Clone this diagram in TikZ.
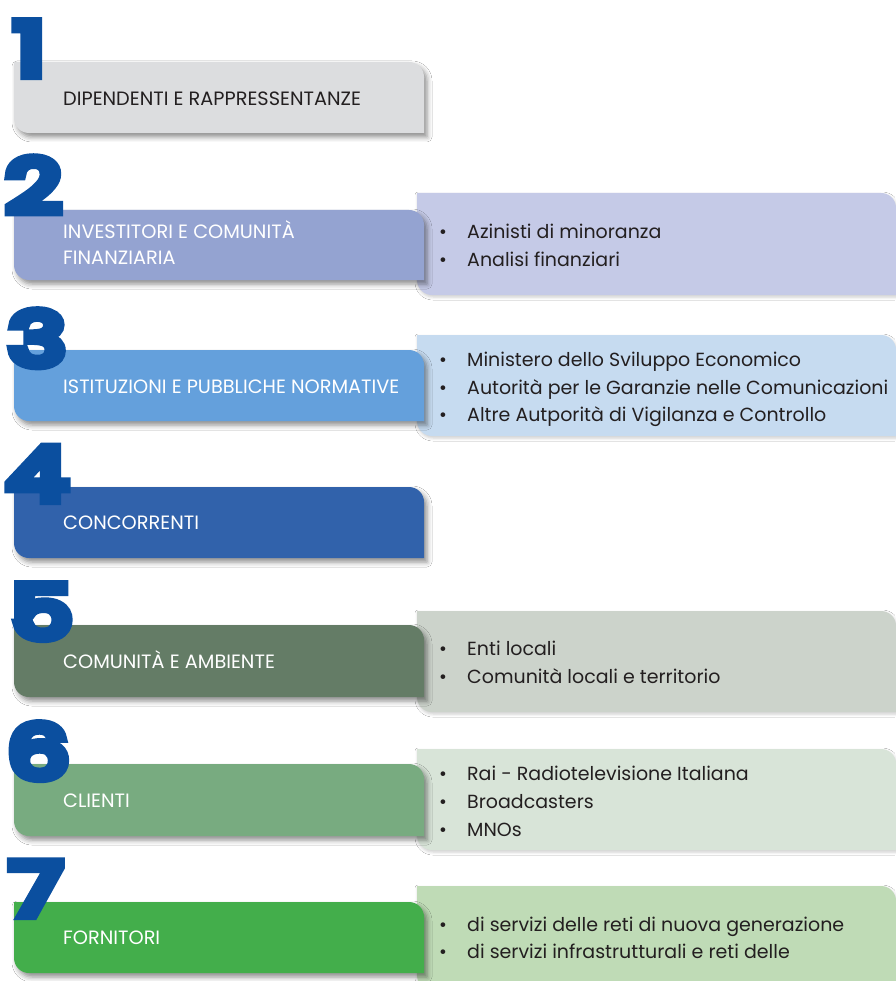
\documentclass[tikz,border=0pt]{standalone}
\usepackage{fontspec}
\usepackage{graphicx}
\setmainfont{Poppins}
\newfontfamily\numfont{Poppins}
\usetikzlibrary{shadows.blur}
\definecolor{txtdark}{HTML}{231F20}
\definecolor{digitblue}{HTML}{0B4F9F}
\definecolor{boxA}{HTML}{DCDDDF}
\definecolor{boxB}{HTML}{94A3D1}
\definecolor{panB}{HTML}{C5CAE7}
\definecolor{boxC}{HTML}{64A0DC}
\definecolor{panC}{HTML}{C6DBF0}
\definecolor{boxD}{HTML}{3162AB}
\definecolor{boxE}{HTML}{647C66}
\definecolor{panE}{HTML}{CCD3CB}
\definecolor{boxF}{HTML}{78AB80}
\definecolor{panF}{HTML}{D8E4D8}
\definecolor{boxG}{HTML}{43AE4B}
\definecolor{panG}{HTML}{BFDBB6}
\tikzset{
  boxshadow/.style={blur shadow={shadow xshift=3pt, shadow yshift=-4pt, shadow blur radius=5pt, shadow opacity=45}},
  panshadow/.style={blur shadow={shadow xshift=1pt, shadow yshift=-2pt, shadow blur radius=3pt, shadow opacity=20}},
  boxtxt/.style={inner sep=0pt, anchor=base west, text=white, font=\fontsize{19.3}{23}\selectfont},
  itemtxt/.style={inner sep=0pt, anchor=base west, text=txtdark, font=\fontsize{19}{24}\selectfont},
  numtxt/.style={inner sep=0pt, anchor=base west, text=digitblue, font=\numfont\fontsize{73}{73}\selectfont}
}
\newcommand\heavydigit[1]{\scalebox{1.3}[1]{\special{pdf:literal direct 2 Tr 10 w 3 M}#1\special{pdf:literal direct 0 Tr 1 w}}}
% box: left top right bottom colour
\newcommand\stakebox[5]{%
  \fill[#5, boxshadow] (#1,#2) -- ({#3-15},#2) .. controls ({#3-6.7},#2) and (#3,{#2+6.7}) .. (#3,{#2+15})
    -- (#3,#4) -- ({#1+15},#4) .. controls ({#1+6.7},#4) and (#1,{#4-6.7}) .. (#1,{#4-15}) -- cycle;}
\newcommand\stakepanel[5]{%
  \fill[#5, panshadow] (#1,#2) -- ({#3-15},#2) .. controls ({#3-6.7},#2) and (#3,{#2+6.7}) .. (#3,{#2+15})
    -- (#3,#4) -- ({#1+15},#4) .. controls ({#1+6.7},#4) and (#1,{#4-6.7}) .. (#1,{#4-15}) -- cycle;}
\newcommand\bul[1]{\makebox[28pt][l]{\textbullet}#1}
\begin{document}
\begin{tikzpicture}[x=1pt,y=-1pt]
\useasboundingbox (0,0) rectangle (895,981);
\fill[white] (0,0) rectangle (895,981);
% panels
\stakepanel{417}{193}{896}{295}{panB}
\stakepanel{417}{335}{896}{436}{panC}
\stakepanel{417}{611}{896}{712}{panE}
\stakepanel{417}{749}{896}{850}{panF}
\stakepanel{417}{886}{896}{990}{panG}
% boxes
\stakebox{14}{62}{424}{133}{boxA}
\stakebox{14}{210}{424}{280}{boxB}
\stakebox{14}{350}{424}{421}{boxC}
\stakebox{14}{487}{424}{558}{boxD}
\stakebox{14}{625}{424}{697}{boxE}
\stakebox{14}{764}{424}{836}{boxF}
\stakebox{14}{902}{424}{973}{boxG}
% digits
\node[numtxt] (n1) at (14,75) {\heavydigit{1}};
\node[numtxt] (n2) at (6,212) {\heavydigit{2}};
\node[numtxt] (n3) at (9,365) {\heavydigit{3}};
\node[numtxt] (n4) at (7,500) {\heavydigit{4}};
\node[numtxt] (n5) at (12,638) {\heavydigit{5}};
\node[numtxt] (n6) at (8,778) {\heavydigit{6}};
\node[numtxt] (n7) at (10,915) {\heavydigit{7}};
% box labels
\node[boxtxt, text=txtdark] (t1) at (63,106) {DIPENDENTI E RAPPRESSENTANZE};
\node[boxtxt] (t2a) at (63,239) {INVESTITORI E COMUNITÀ};
\node[boxtxt] (t2b) at (63,265) {FINANZIARIA};
\node[boxtxt] (t3) at (63,393) {ISTITUZIONI E PUBBLICHE NORMATIVE};
\node[boxtxt] (t4) at (63,529) {CONCORRENTI};
\node[boxtxt] (t5) at (63,668) {COMUNITÀ E AMBIENTE};
\node[boxtxt] (t6) at (63,807) {CLIENTI};
\node[boxtxt] (t7) at (63,944) {FORNITORI};
% panel items
\node[itemtxt] (p2a) at (439,238.7) {\bul{Azinisti di minoranza}};
\node[itemtxt] (p2b) at (439,266.7) {\bul{Analisi finanziari}};
\node[itemtxt] (p3a) at (439,366.7) {\bul{Ministero dello Sviluppo Economico}};
\node[itemtxt] (p3b) at (439,394.2) {\bul{Autorità per le Garanzie nelle Comunicazioni}};
\node[itemtxt] (p3c) at (439,421.7) {\bul{Altre Autporità di Vigilanza e Controllo}};
\node[itemtxt] (p5a) at (439,655.7) {\bul{Enti locali}};
\node[itemtxt] (p5b) at (439,683.7) {\bul{Comunità locali e territorio}};
\node[itemtxt] (p6a) at (439,780.7) {\bul{Rai - Radiotelevisione Italiana}};
\node[itemtxt] (p6b) at (439,808.7) {\bul{Broadcasters}};
\node[itemtxt] (p6c) at (439,836.7) {\bul{MNOs}};
\node[itemtxt] (p7a) at (439,931.7) {\bul{di servizi delle reti di nuova generazione}};
\node[itemtxt] (p7b) at (439,958.7) {\bul{di servizi infrastrutturali e reti delle}};
\end{tikzpicture}
\end{document}
